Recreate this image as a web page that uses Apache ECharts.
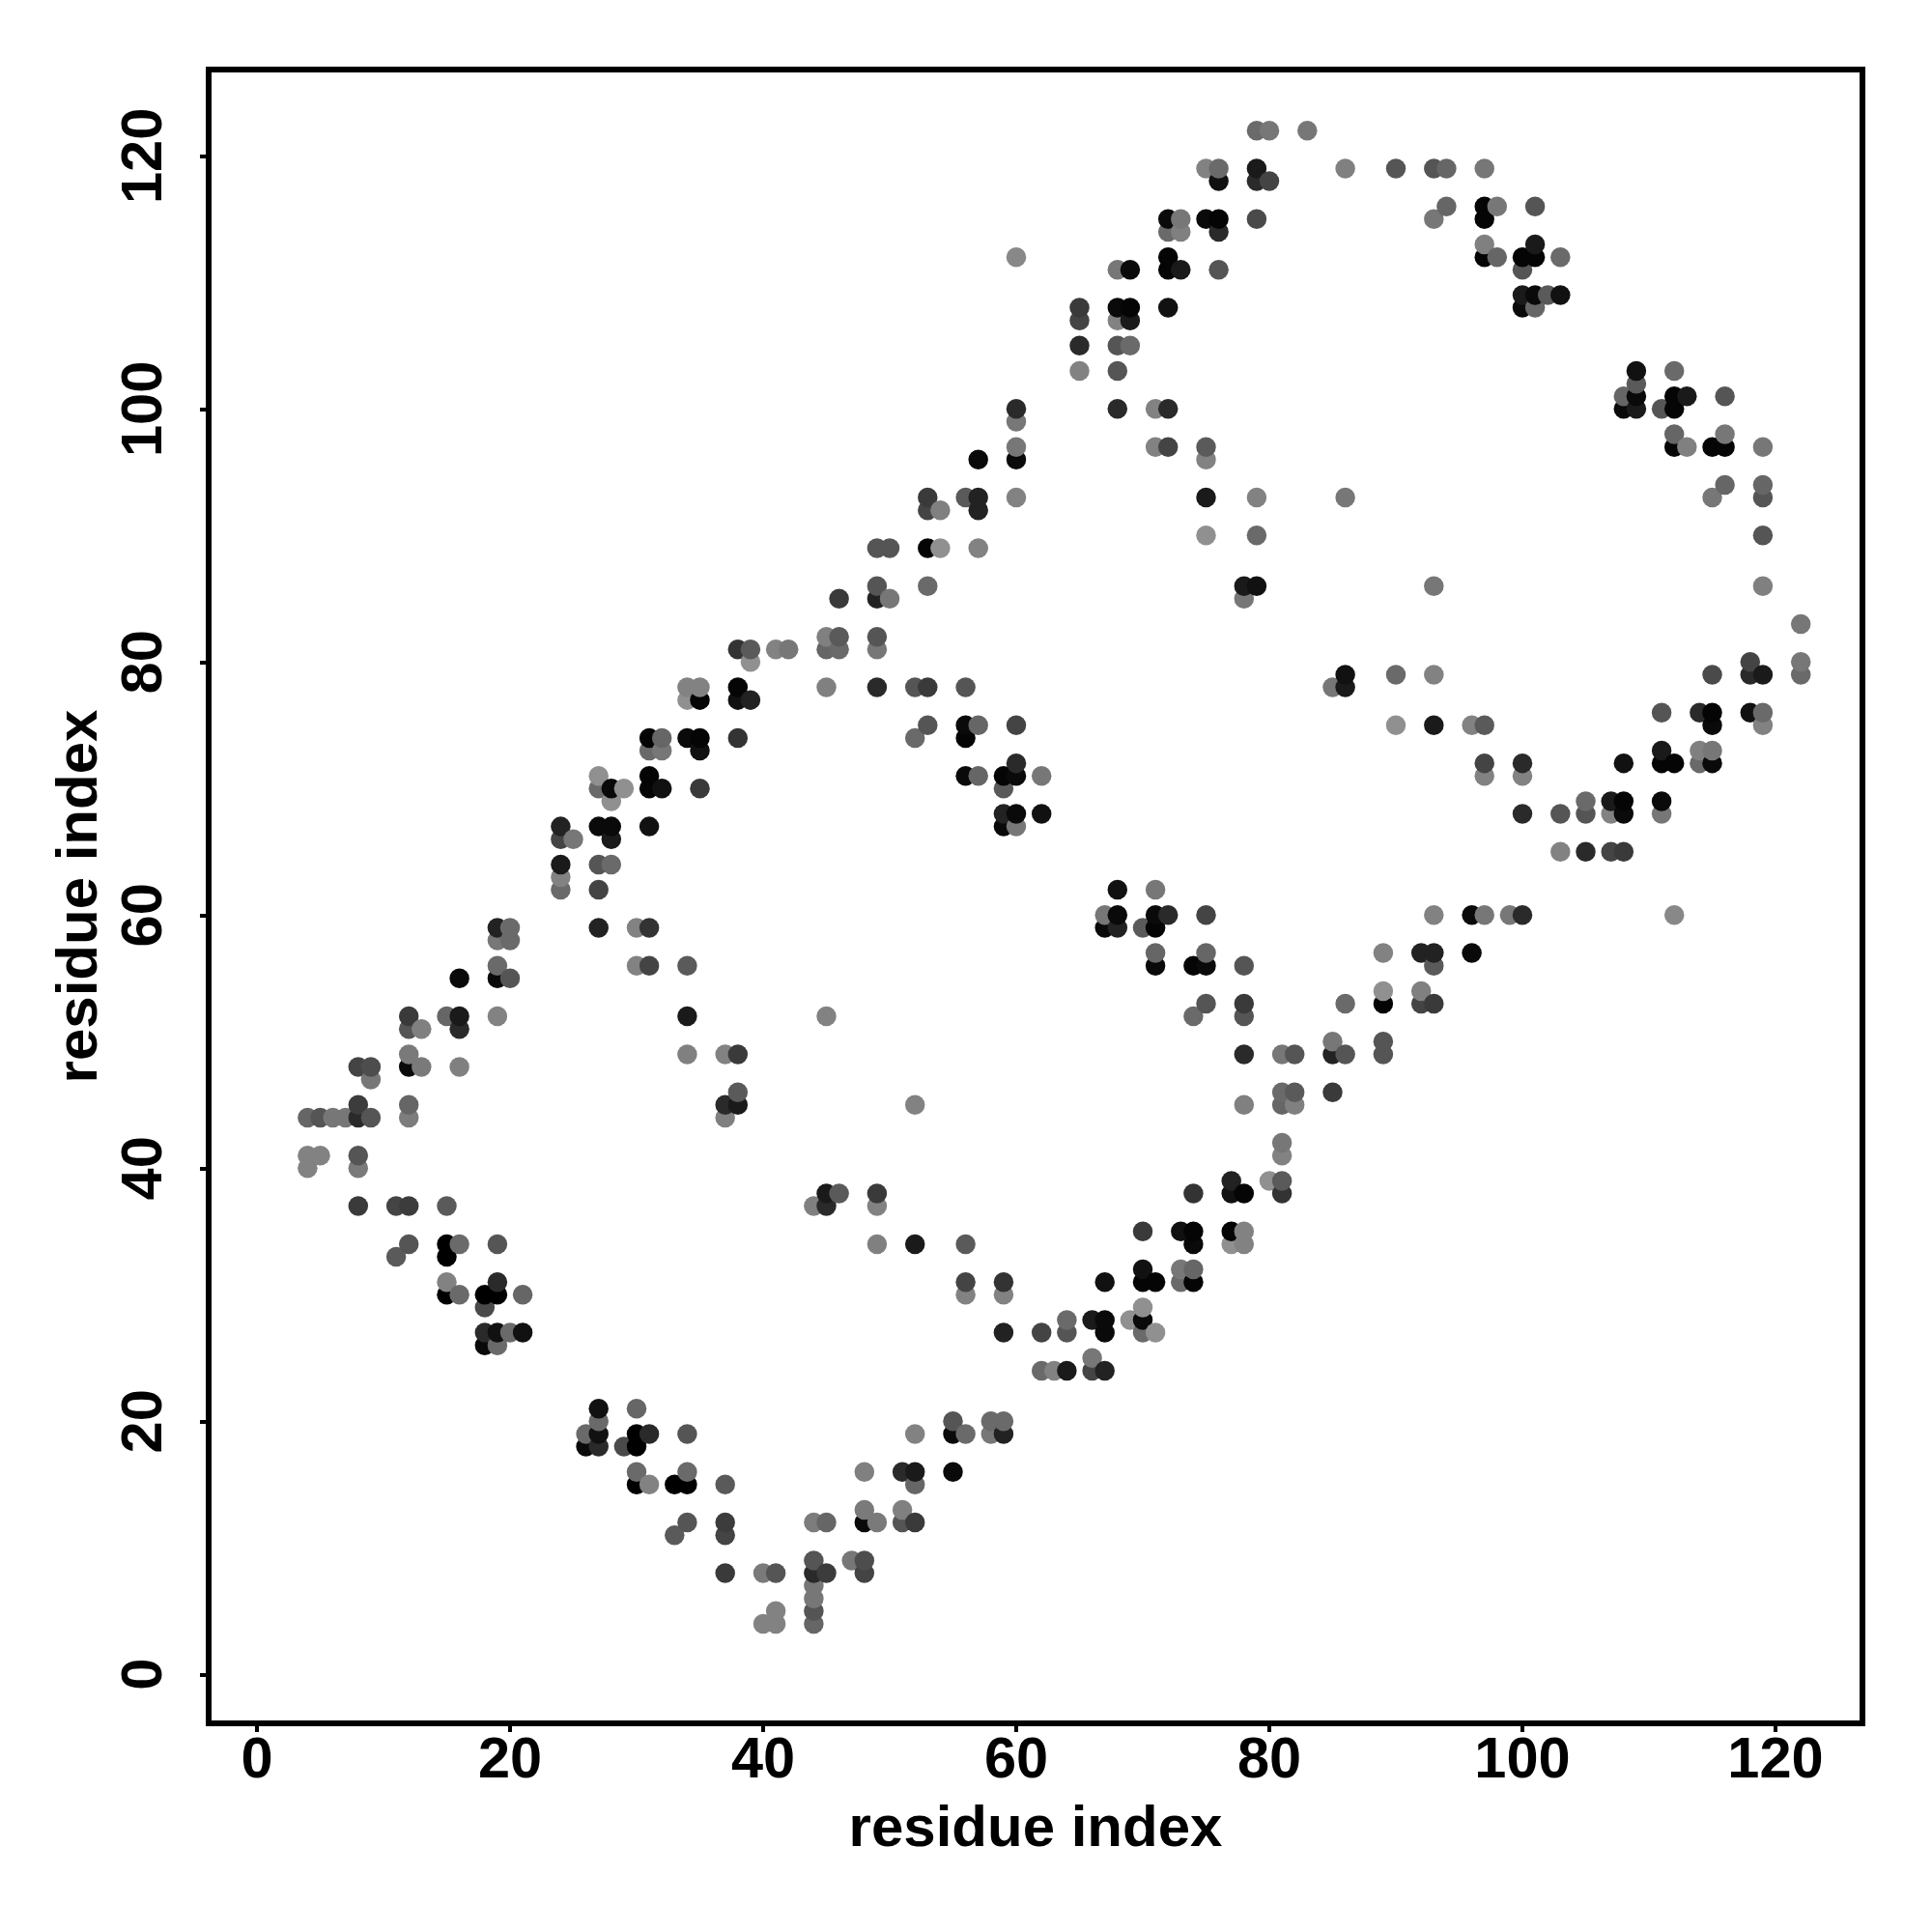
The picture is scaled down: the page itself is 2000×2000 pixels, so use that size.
<!DOCTYPE html>
<html>
<head>
<meta charset="utf-8">
<style>html,body{margin:0;padding:0;background:#fff}#c{width:2000px;height:2000px}</style>
<script src="https://cdn.jsdelivr.net/npm/echarts@6/dist/echarts.min.js"></script>
</head>
<body>
<div id="c"></div>
<script>
// Contacts: residue i, then "partner:grey" pairs. The map is symmetric.
const contact4 = [[4,"40:82 41:82 44:66"],[5,"41:82 44:55"],[6,"44:77"],[7,"44:77"],
 [8,"37:3a 40:7a 41:55 44:2a 45:3c 48:44"],[9,"44:55 47:77 48:4d"],[11,"33:5a 37:44"],
 [12,"34:55 37:3c 44:7d 45:66 48:0a 49:7a 51:55 52:3a"],[13,"48:7a 51:80"],
 [15,"30:00 31:82 33:00 34:00 37:5a 52:66"],[16,"30:6a 34:6a 48:80 51:2a 52:1a 55:0a"]];
const contact18 = [[18,"26:0a 27:2a 29:4a 30:00"],[19,"26:6a 27:11 30:00 31:2a 34:55 52:82 55:0a 56:6a 58:77 59:22"],
 [20,"27:6a 55:55 58:6a 59:6a"],[21,"27:11 30:66"],[24,"62:6a 63:82 64:1a 66:44 67:22"],[25,"66:77"],
 [27,"59:22 62:44 64:55 67:0a 70:6a 71:90"],[28,"64:6a 66:1a 67:0a 69:90 70:0a"],[29,"70:90"],
 [30,"56:82 59:82"],[31,"56:44 59:33 67:11 70:05 71:05 73:6a 74:05"],[32,"70:11 73:77 74:66"]];
const contact34 = [[34,"49:80 52:1a 56:5a 74:0a 77:90 78:82"],[35,"70:3a 73:11 74:05 77:05 78:82"],
 [37,"44:80 45:2a 49:82"],[38,"45:1a 46:5a 49:3a 74:33 77:11 78:05 81:33"],[39,"77:22 80:90 81:5a"],
 [41,"81:82"],[42,"81:77"],[45,"52:82 78:80 81:66 82:80"],[46,"81:6a 82:5a 85:3a"],
 [49,"78:2a 81:77 82:55 85:22 86:55 89:55"],[50,"85:77 89:55"],[52,"74:6a 78:55"]];
const contact53 = [[53,"75:55 78:3a 86:6a 89:05 92:44 93:3a"],[54,"89:90 92:80"],[56,"71:0a 74:05 75:0a 78:55 93:5a"],
 [57,"71:66 75:66 89:82 92:22 93:22 96:0a"],[59,"67:0a 68:22 70:5a 71:05"],
 [60,"67:77 68:0a 71:0a 72:2a 75:44 93:82 96:0a 97:77 99:77 100:2a 112:88"],[62,"68:11 71:77"],
 [65,"103:82 105:2a 107:44 108:3a"],[68,"100:2a 103:55 105:55 107:82 108:0a 111:77"],
 [69,"105:6a 107:1a 108:05 111:0a"],[71,"97:82 100:82"],[72,"97:44 100:2a 108:11 111:05 112:05 114:6a 115:0a"]];
const contact73 = [[73,"111:1a 114:80 115:77"],[75,"90:90 93:1a 96:82 97:5a 115:0a 119:82"],
 [76,"111:55 114:2a 115:05 118:11 119:6a"],[78,"85:77 86:1a"],[79,"86:11 90:6a 93:82 115:4a 118:2a 119:1a 122:6a"],
 [80,"118:44 122:77"],[83,"122:77"],[86,"93:77 119:80"],[90,"119:55"],[93,"115:77 119:55"],[94,"116:66 119:66"],
 [97,"112:05 113:80 115:05 116:05 119:77"],[98,"112:66 116:77"],[100,"108:0a 109:1a 111:55 112:05"],
 [101,"108:66 109:0a 112:05 113:1a 116:55"],[102,"109:5a"],[103,"109:11 112:6a"]];
const tickValues = [0, 20, 40, 60, 80, 100, 120];
const axisTitle = "residue index";

const points = [];
[contact4, contact18, contact34, contact53, contact73].forEach(block => block.forEach(([i, text]) => {
  text.split(" ").forEach(entry => {
    const [j, g] = entry.split(":");
    const colour = "#" + g + g + g;
    points.push([i, +j, colour]);
    points.push([+j, i, colour]);
  });
}));
points.sort((a, b) => a[0] - b[0] || a[1] - b[1]);

const font = "'Liberation Sans', Arial, sans-serif";
function axis(nameGap, margin, rotate, min, max) {
  return {
    type: "value", min, max, name: axisTitle, nameLocation: "middle", nameGap,
    nameTextStyle: {fontFamily: font, fontWeight: "bold", fontSize: 60, color: "#000"},
    splitLine: {show: false}, axisLine: {show: false, onZero: false},
    axisTick: {show: true, length: 9, customValues: tickValues, lineStyle: {color: "#000", width: 4}},
    axisLabel: {show: true, customValues: tickValues, rotate, margin, hideOverlap: false, showMinLabel: true, showMaxLabel: true,
      fontFamily: font, fontWeight: "bold", fontSize: 59.5, color: "#000"}
  };
}
const chart = echarts.init(document.getElementById("c"), null, {renderer: "canvas"});
chart.setOption({
  animation: false,
  backgroundColor: "#fff",
  grid: {left: 216, right: 72, top: 72, bottom: 216, show: true, borderColor: "#000", borderWidth: 6, backgroundColor: "transparent"},
  xAxis: axis(80, 10, 0, -3.817, 126.87),
  yAxis: axis(102, 35, 90, -3.87, 126.82),
  series: [{
    type: "scatter", symbol: "circle", symbolSize: 20.5, silent: true,
    data: points.map(p => ({value: [p[0], p[1]], itemStyle: {color: p[2], opacity: 1}}))
  }]
});
</script>
</body>
</html>
